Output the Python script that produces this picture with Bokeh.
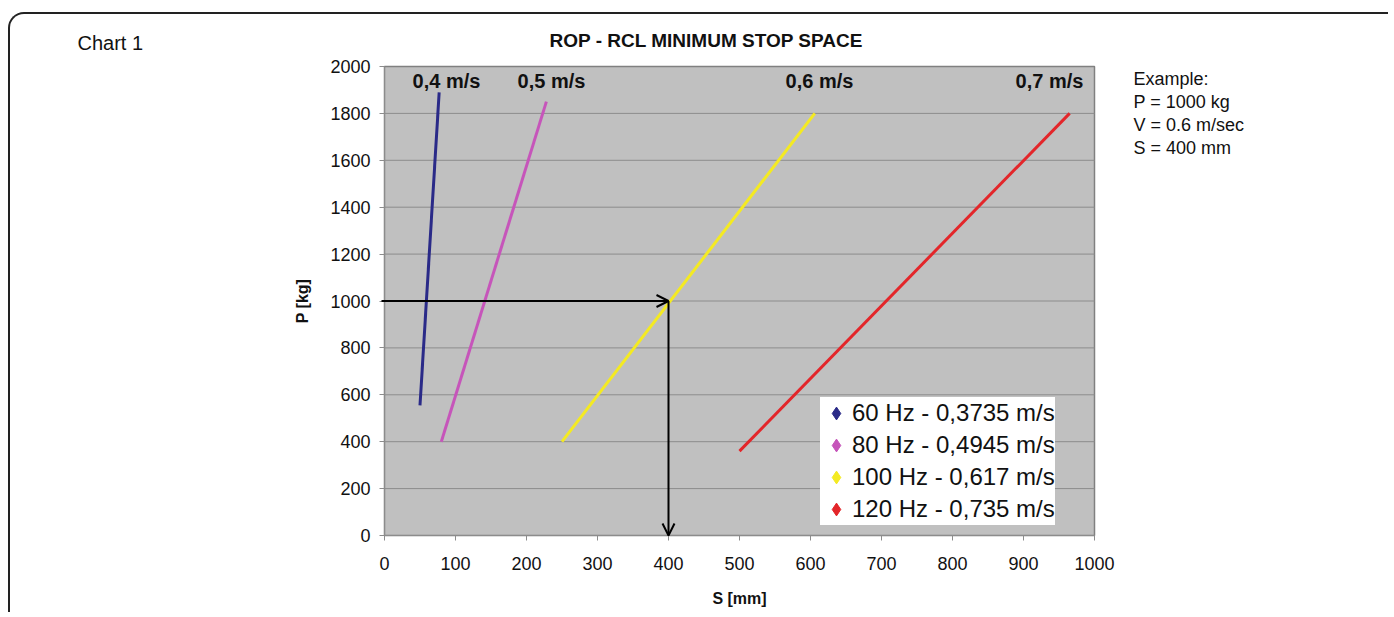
from bokeh.plotting import figure
from bokeh.models import (Range1d, Label, Arrow, OpenHead, Legend, LegendItem, FixedTicker,
                          ColumnDataSource)
from bokeh.embed import file_html
from bokeh.resources import INLINE

# ---- data ----
s_60hz = [50, 77]
p_60hz = [555, 1890]
s_80hz = [80, 228]
p_80hz = [400, 1850]
s_100hz = [250, 606]
p_100hz = [400, 1800]
s_120hz = [500, 965]
p_120hz = [360, 1800]

series_labels = ["60 Hz - 0,3735 m/s", "80 Hz - 0,4945 m/s",
                 "100 Hz - 0,617 m/s", "120 Hz - 0,735 m/s"]
speed_labels = ["0,4 m/s", "0,5 m/s", "0,6 m/s", "0,7 m/s"]
example_lines = ["Example:", "P = 1000 kg", "V = 0.6 m/sec", "S = 400 mm"]
chart_caption = "Chart 1"
chart_title = "ROP - RCL MINIMUM STOP SPACE"
example_s = 400
example_p = 1000

x_ticks = [0, 100, 200, 300, 400, 500, 600, 700, 800, 900, 1000]
y_ticks = [0, 200, 400, 600, 800, 1000, 1200, 1400, 1600, 1800, 2000]

# ---- layout geometry (pixels) ----
W, H = 1380, 600
CANVAS_X, CANVAS_Y = 10, 14          # canvas origin on the page
PLOT_L, PLOT_R = 384, 1094           # page x of S=0 and S=1000
PLOT_B, PLOT_T = 535, 66             # page y of P=0 and P=2000
kx = (PLOT_R - PLOT_L) / (x_ticks[-1] - x_ticks[0])
ky = (PLOT_B - PLOT_T) / (y_ticks[-1] - y_ticks[0])
x_range = Range1d((CANVAS_X - PLOT_L) / kx, (CANVAS_X + W - PLOT_L) / kx)
y_range = Range1d((PLOT_B - (CANVAS_Y + H)) / ky, (PLOT_B - CANVAS_Y) / ky)

def dx(page_x):
    return (page_x - PLOT_L) / kx

def dy(page_y):
    return (PLOT_B - page_y) / ky

# ---- styling ----
colors = ["#2a2a88", "#c655ba", "#f4ea22", "#e3262a"]
FONT = "Liberation Sans"
INK = "#111111"

p = figure(width=W, height=H, x_range=x_range, y_range=y_range,
           output_backend="svg", toolbar_location=None, min_border=0)
p.styles = {"border-left": "2px solid #222", "border-top": "2px solid #222",
            "border-top-left-radius": "16px", "margin-left": "8px", "margin-top": "12px"}
p.border_fill_alpha = 0
p.background_fill_alpha = 0
p.outline_line_color = None
p.xgrid.visible = False
p.ygrid.visible = False

# plot area + horizontal grid lines
p.quad(left=x_ticks[0], right=x_ticks[-1], bottom=y_ticks[0], top=y_ticks[-1],
       fill_color="#c0c0c0", line_color="#808080", line_width=1.5)
p.segment(x0=[x_ticks[0]] * (len(y_ticks) - 2), x1=[x_ticks[-1]] * (len(y_ticks) - 2),
          y0=y_ticks[1:-1], y1=y_ticks[1:-1], line_color="#8c8c8c", line_width=1)

# axes pinned to the plot-area edges
p.xaxis.fixed_location = y_ticks[0]
p.yaxis.fixed_location = x_ticks[0]
p.xaxis.bounds = (x_ticks[0], x_ticks[-1])
p.yaxis.bounds = (y_ticks[0], y_ticks[-1])
p.xaxis.ticker = FixedTicker(ticks=x_ticks)
p.yaxis.ticker = FixedTicker(ticks=y_ticks)
for ax in (p.xaxis, p.yaxis):
    ax.axis_line_color = "#8c8c8c"
    ax.major_tick_line_color = "#8c8c8c"
    ax.major_tick_out = 5
    ax.major_tick_in = 0
    ax.minor_tick_line_color = None
    ax.major_label_text_font = FONT
    ax.major_label_text_font_size = "18px"
    ax.major_label_text_color = INK
    ax.axis_label_text_font = FONT
    ax.axis_label_text_font_style = "bold"
    ax.axis_label_text_font_size = "16px"
    ax.axis_label_text_color = INK
p.xaxis.major_label_standoff = 16
p.yaxis.major_label_standoff = 9
p.xaxis.axis_label = "S [mm]"
p.yaxis.axis_label = "P [kg]"
p.xaxis.axis_label_standoff = 17
p.yaxis.axis_label_standoff = 16

# series lines + hidden diamond-marker renderers used only for the legend swatches
series = [(s_60hz, p_60hz), (s_80hz, p_80hz), (s_100hz, p_100hz), (s_120hz, p_120hz)]
leg_renderers = []
for (xs, ys), c in zip(series, colors):
    src = ColumnDataSource(data=dict(s=xs, p=ys))
    p.line("s", "p", source=src, line_width=3, line_color=c)
    r = p.scatter("s", "p", source=src, marker="diamond", size=17, color=c)
    r.visible = False
    leg_renderers.append(r)

# example arrows
head = dict(size=12, line_width=2, line_color="black")
p.add_layout(Arrow(end=OpenHead(**head), x_start=dx(PLOT_L - 3), y_start=example_p,
                   x_end=example_s, y_end=example_p, line_width=2, line_color="black"))
p.add_layout(Arrow(end=OpenHead(**head), x_start=example_s, y_start=example_p,
                   x_end=example_s, y_end=y_ticks[0], line_width=2, line_color="black"))

legend = Legend(items=[LegendItem(label=l, renderers=[r])
                       for l, r in zip(series_labels, leg_renderers)],
                location=(820 - CANVAS_X, CANVAS_Y + H - 525),
                label_text_font=FONT, label_text_font_size="24px", label_text_color=INK,
                glyph_width=32, glyph_height=32, label_height=32, label_standoff=0,
                spacing=0, padding=6, margin=0, inactive_fill_alpha=0,
                border_line_color=None, background_fill_color="white", background_fill_alpha=1)
p.add_layout(legend)

# speed labels inside plot
speed_px = [446, 551, 819, 1049]
for t, px in zip(speed_labels, speed_px):
    p.add_layout(Label(x=dx(px), y=dy(80), text=t, text_align="center", text_baseline="middle",
                       text_font=FONT, text_font_style="bold", text_font_size="20px",
                       text_color=INK))

# title, caption and example block
p.add_layout(Label(x=dx(706), y=dy(40), text=chart_title, text_align="center",
                   text_baseline="middle", text_font=FONT, text_font_style="bold",
                   text_font_size="19px", text_color=INK))
p.add_layout(Label(x=dx(77), y=dy(42), text=chart_caption, text_align="left",
                   text_baseline="middle", text_font=FONT, text_font_size="20px",
                   text_color=INK))
for i, t in enumerate(example_lines):
    p.add_layout(Label(x=dx(1133), y=dy(78 + 23 * i), text=t, text_align="left",
                       text_baseline="middle", text_font=FONT, text_font_size="18px",
                       text_color=INK))

open("out.html", "w").write(file_html(p, INLINE))
